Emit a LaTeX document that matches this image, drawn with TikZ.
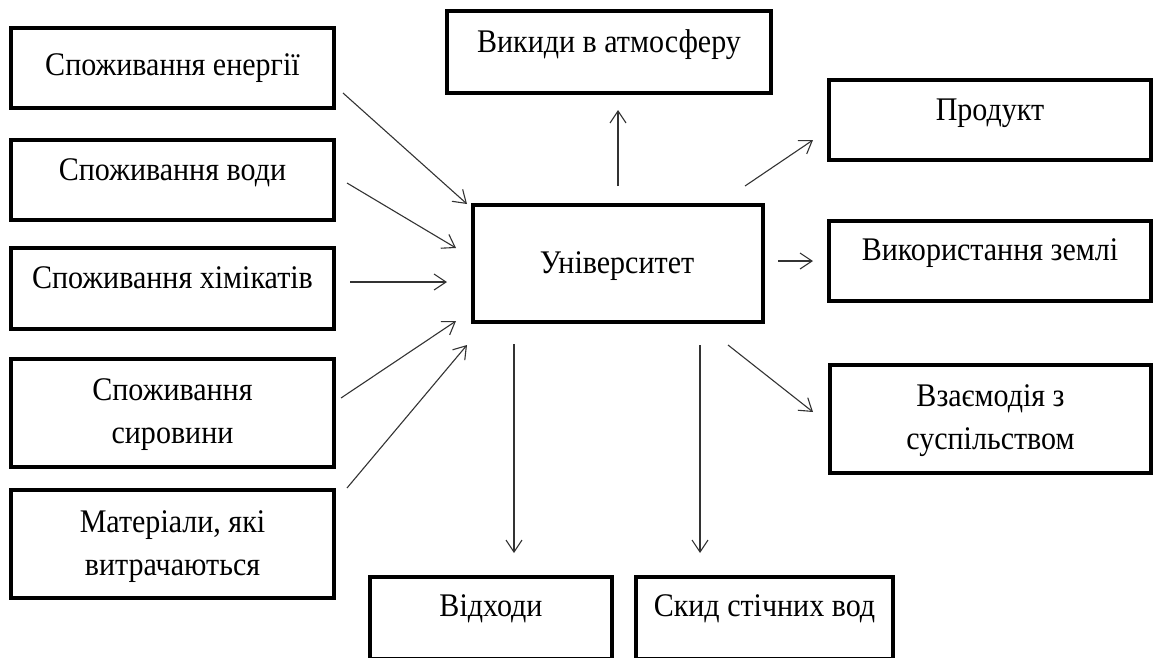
\documentclass[tikz,border=0pt]{standalone}
\usepackage{fontspec}
\usepackage{graphicx}
\setmainfont{Liberation Serif}
\usetikzlibrary{arrows.meta}
% narrow setting of one line of label text
\newcommand{\narrowline}[1]{\scalebox{0.91}[1]{#1}}
\begin{document}
\begin{tikzpicture}[x=1pt,y=-1pt,
  box/.style={draw=black, line width=3.2pt, inner sep=0pt},
  txt/.style={anchor=base, font=\fontsize{33}{43}\selectfont, align=center, inner sep=0pt},
  flow/.style={draw=black!80, line width=1.1pt,
    -{Straight Barb[length=12pt,width=16pt,line width=1.1pt]}}]
\useasboundingbox (0,0) rectangle (1154,657);
\clip (0,0) rectangle (1154,657);

% input boxes (left column)
\node[box, minimum width=323pt, minimum height=80pt]  (b1) at (172.5,68) {};
\node[box, minimum width=323pt, minimum height=80pt]  (b2) at (172.5,180) {};
\node[box, minimum width=323pt, minimum height=81pt]  (b3) at (172.5,288.5) {};
\node[box, minimum width=323pt, minimum height=108pt] (b4) at (172.5,413) {};
\node[box, minimum width=323pt, minimum height=108pt] (b5) at (172.5,544) {};
\node[txt] (t1) at (172.5,75)  {\narrowline{Споживання енергії}};
\node[txt] (t2) at (172.5,180) {\narrowline{Споживання води}};
\node[txt] (t3) at (172.5,288) {\narrowline{Споживання хімікатів}};
\node[txt] (t4) at (172.5,443) {\narrowline{Споживання}\\\narrowline{сировини}};
\node[txt] (t5) at (172.5,575) {\narrowline{Матеріали, які}\\\narrowline{витрачаються}};

% central box
\node[box, minimum width=290pt, minimum height=117pt] (uni) at (618,263.5) {};
\node[txt] (tu) at (617,273) {\narrowline{Університет}};

% output boxes
\node[box, minimum width=324pt, minimum height=82pt]  (air)  at (609,52) {};
\node[box, minimum width=322pt, minimum height=80pt]  (prod) at (990,120) {};
\node[box, minimum width=322pt, minimum height=80pt]  (land) at (990,261) {};
\node[box, minimum width=321pt, minimum height=108pt] (soc)  at (990.5,419) {};
\node[box, minimum width=242pt, minimum height=82pt]  (waste) at (491,618) {};
\node[box, minimum width=257pt, minimum height=82pt]  (sew)  at (764.5,618) {};
\node[txt] (ta) at (609,52)   {\narrowline{Викиди в атмосферу}};
\node[txt] (tp) at (990,120)  {\narrowline{Продукт}};
\node[txt] (tl) at (990,260)  {\narrowline{Використання землі}};
\node[txt] (ts) at (990.5,449) {\narrowline{Взаємодія з}\\\narrowline{суспільством}};
\node[txt] (tw) at (491,616)  {\narrowline{Відходи}};
\node[txt] (tc) at (764.5,616) {\narrowline{Скид стічних вод}};

% free ends of the arrows
\coordinate (i1s) at (343,93);  \coordinate (i1e) at (467,204);
\coordinate (i2s) at (347,183); \coordinate (i2e) at (456,248);
\coordinate (i3s) at (350,282); \coordinate (i3e) at (447,282);
\coordinate (i4s) at (341,398); \coordinate (i4e) at (456,321);
\coordinate (i5s) at (347,488); \coordinate (i5e) at (467,345);
\coordinate (o1s) at (618,186); \coordinate (o1e) at (618,110);
\coordinate (o2s) at (745,186); \coordinate (o2e) at (813,140);
\coordinate (o3s) at (778,261); \coordinate (o3e) at (813,261);
\coordinate (o4s) at (728,345); \coordinate (o4e) at (813,412);
\coordinate (o5s) at (514,344); \coordinate (o5e) at (514,553);
\coordinate (o6s) at (700,345); \coordinate (o6e) at (700,553);

\draw[flow] (i1s) -- (i1e);
\draw[flow] (i2s) -- (i2e);
\draw[flow] (i3s) -- (i3e);
\draw[flow] (i4s) -- (i4e);
\draw[flow] (i5s) -- (i5e);
\draw[flow] (o1s) -- (o1e);
\draw[flow] (o2s) -- (o2e);
\draw[flow] (o3s) -- (o3e);
\draw[flow] (o4s) -- (o4e);
\draw[flow] (o5s) -- (o5e);
\draw[flow] (o6s) -- (o6e);
\end{tikzpicture}
\end{document}
